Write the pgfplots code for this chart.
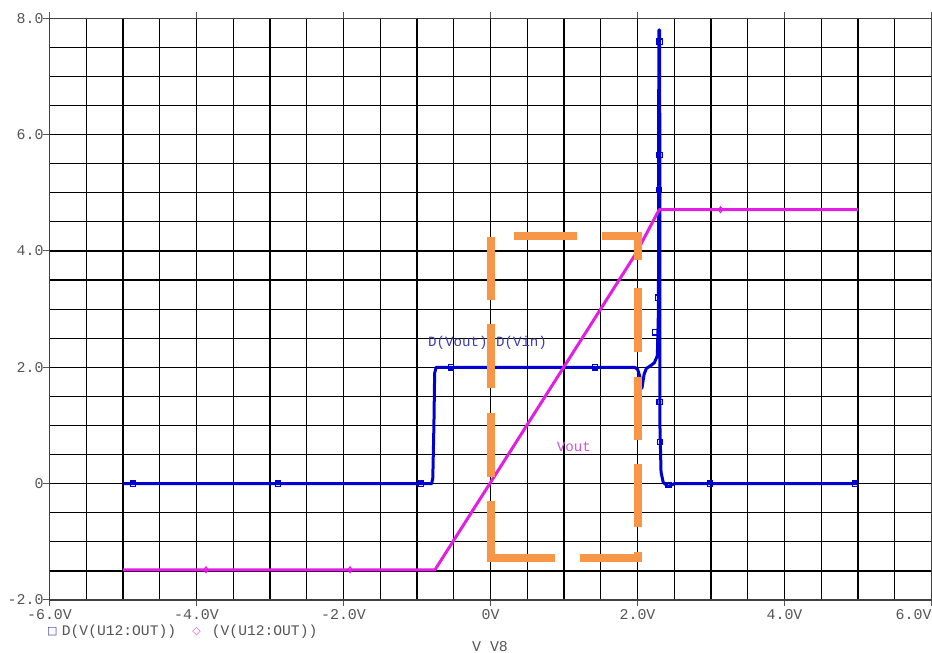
\documentclass[border=0pt]{standalone}
\usepackage{fontspec}
\setmainfont{Liberation Mono}
\newfontfamily\sym{DejaVu Sans}
\usepackage{pgfplots}
\pgfplotsset{compat=1.18}
\definecolor{bl}{RGB}{0,0,210}
\definecolor{mg}{RGB}{225,30,225}
\definecolor{org}{RGB}{247,150,70}
\definecolor{tk}{RGB}{85,85,85}
\definecolor{lblb}{RGB}{60,60,175}
\definecolor{lblm}{RGB}{215,80,215}
\begin{document}
\begin{tikzpicture}
\useasboundingbox (0bp,0bp) rectangle (932bp,653bp);
\begin{axis}[at={(49.5bp,53bp)}, anchor=south west, scale only axis,
  width=882bp, height=581.7bp,
  xmin=-6, xmax=6, ymin=-2, ymax=8,
  xtick={-6,-4,-2,0,2,4,6},
  xticklabels={-6.0V,-4.0V,-2.0V,0V,2.0V,4.0V,\makebox[0pt][r]{6.0V}},
  ytick={-2,0,2,4,6,8},
  yticklabels={-2.0,0,2.0,4.0,6.0,8.0},
  minor xtick={-5.5,-5,-4.5,-3.5,-3,-2.5,-1.5,-1,-0.5,0.5,1,1.5,2.5,3,3.5,4.5,5,5.5},
  minor ytick={-1.5,-1,-0.5,0.5,1,1.5,2.5,3,3.5,4.5,5,5.5,6.5,7,7.5},
  grid=both,
  major grid style={black, line width=1.2bp},
  minor grid style={black, line width=1.2bp},
  tick align=outside, major tick length=6bp, minor tick length=0pt,
  tick style={tk, line width=1bp},
  axis line style={black!75, line width=1.5bp},
  ticklabel style={font=\fontsize{15}{15}\selectfont, text=tk},
  xticklabel style={yshift=0bp},
  yticklabel style={xshift=3.5bp},
  clip=false,
]
\node[font=\fontsize{14.2}{14.2}\selectfont, text=lblb] at (axis cs:-0.04,2.42) {D(Vout)/D(Vin)};
\node[font=\fontsize{14.2}{14.2}\selectfont, text=lblm] at (axis cs:1.135,0.64) {Vout};
% D(Vout)/D(Vin)
\addplot[bl, line width=3bp, line join=round] coordinates {
(-5,0) (-0.80,0) (-0.785,0.1) (-0.77,1.0) (-0.76,1.9) (-0.74,2.0) (1.96,2.0)
(2.0,1.97) (2.03,1.85) (2.06,1.64) (2.09,1.88) (2.12,1.98) (2.18,2.03) (2.23,2.08)
(2.27,2.2) (2.285,3.0) (2.29,7.8) (2.30,7.8) (2.305,5.0) (2.305,1.0) (2.32,0.2)
(2.35,0.02) (2.42,-0.05) (2.5,0) (5,0)};
\addplot[bl, only marks, mark=square, mark size=2.6bp, mark options={line width=1.2bp}] coordinates {
(-4.86,0) (-2.89,0) (-0.95,0) (-0.54,2) (1.42,2) (2.24,2.6) (2.28,3.2) (2.29,5.05)
(2.30,5.65) (2.30,7.6) (2.30,1.4) (2.31,0.72) (2.42,-0.02) (2.99,0) (4.96,0)};
% V(U12:OUT)
\addplot[mg, line width=3bp, line join=round] coordinates {
(-5,-1.48) (-0.755,-1.48) (0,0.02) (1.98,3.96) (2.295,4.71) (5,4.71)};
\addplot[mg, only marks, mark=diamond, mark size=3bp, mark options={line width=1bp}] coordinates {
(-3.87,-1.48) (-1.91,-1.48) (3.13,4.71)};
% orange dashed annotation box
\addplot[org, line width=8bp, line cap=butt, line join=miter] coordinates {(0,4.245) (0,3.157)};
\addplot[org, line width=8bp, line cap=butt, line join=miter] coordinates {(0,2.74) (0,1.64)};
\addplot[org, line width=8bp, line cap=butt, line join=miter] coordinates {(0,1.21) (0,0.12)};
\addplot[org, line width=8bp, line cap=butt, line join=miter] coordinates {(0,-0.30) (0,-1.27) (0.874,-1.27)};
\addplot[org, line width=8bp, line cap=butt, line join=miter] coordinates {(1.214,-1.27) (2.0,-1.27) (2.0,-1.17)};
\addplot[org, line width=8bp, line cap=butt, line join=miter] coordinates {(2.0,-0.74) (2.0,0.333)};
\addplot[org, line width=8bp, line cap=butt, line join=miter] coordinates {(2.0,0.75) (2.0,1.84)};
\addplot[org, line width=8bp, line cap=butt, line join=miter] coordinates {(2.0,2.27) (2.0,3.36)};
\addplot[org, line width=8bp, line cap=butt, line join=miter] coordinates {(2.0,3.845) (2.0,4.26) (1.513,4.26)};
\addplot[org, line width=8bp, line cap=butt, line join=miter] coordinates {(0.316,4.26) (1.18,4.26)};
\end{axis}
% legend
\node[text=lblb, font=\sym\fontsize{11}{11}\selectfont] at (52.3bp,21bp) {□};
\node[anchor=west, inner sep=0pt, text=tk, font=\fontsize{14.7}{14.7}\selectfont] at (61.7bp,21bp) {D(V(U12:OUT))};
\node[text=lblm, font=\sym\fontsize{11}{11}\selectfont] at (196.7bp,21bp) {◇};
\node[anchor=west, inner sep=0pt, text=tk, font=\fontsize{14.7}{14.7}\selectfont] at (211.7bp,21bp) {(V(U12:OUT))};
% x label
\node[text=tk, font=\fontsize{15}{15}\selectfont] at (490bp,6.5bp) {V V8};
\end{tikzpicture}
\end{document}
